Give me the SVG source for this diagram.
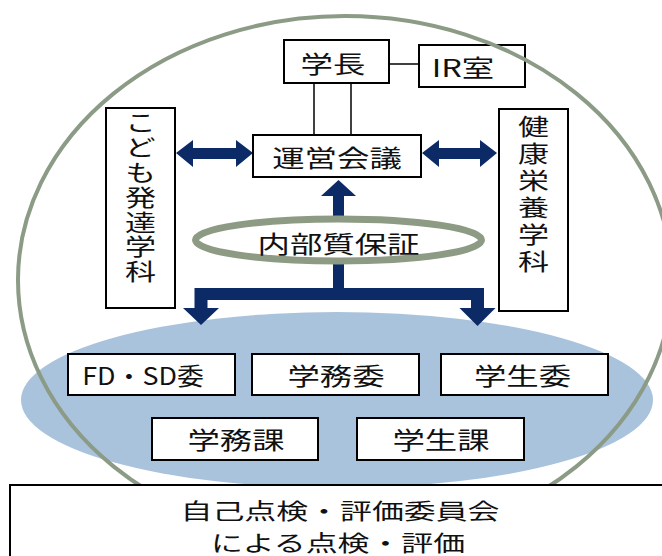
<svg xmlns="http://www.w3.org/2000/svg" width="662" height="556" viewBox="0 0 662 556">
<style>
.box{fill:#fff;stroke:#000;stroke-width:2}
.t{font-family:"Noto Sans CJK JP","Noto Sans",sans-serif;font-size:24px;fill:#111;text-anchor:middle;dominant-baseline:central}
.b{font-family:"Noto Sans CJK JP","Noto Sans",sans-serif;font-size:22px;fill:#111;text-anchor:middle;dominant-baseline:central}
.v{font-family:"Noto Sans CJK JP","Noto Sans",sans-serif;font-size:23px;fill:#111;text-anchor:middle;writing-mode:vertical-rl}
.ln{stroke:#000;stroke-width:1.5;fill:none}
.arr{fill:#0c2a66}
</style>
<rect width="662" height="556" fill="#fff"/>
<ellipse id="blue-area" cx="337" cy="400" rx="316" ry="88" fill="#a9c3dd"/>
<g id="connectors">
<line class="ln" x1="387" y1="64" x2="419" y2="64"/>
<line class="ln" x1="314" y1="83" x2="314" y2="135"/>
<line class="ln" x1="351" y1="83" x2="351" y2="135"/>
<path class="arr" d="M176,153 L193,140 L193,148 L236,148 L236,140 L253,153 L236,167 L236,159 L193,159 L193,167 Z"/>
<path class="arr" d="M422,153 L439,140 L439,148 L480,148 L480,140 L497,153 L480,167 L480,159 L439,159 L439,167 Z"/>
<path class="arr" d="M338.5,180 L356,196 L344,196 L344,288 L484,288 L484,308 L495.5,308 L477.5,326 L459.5,308 L471,308 L471,300 L207.5,300 L207.5,308 L219,308 L201,325 L183,308 L194.5,308 L194.5,288 L333,288 L333,196 L321,196 Z"/>
</g>
<g id="gakucho"><rect class="box" x="284" y="40" width="105" height="43"/><g transform="translate(333,62) scale(1.35,1)"><text class="t" x="0" y="0">学長</text></g></g>
<g id="ir"><rect class="box" x="419" y="45" width="106" height="42"/><g transform="translate(463,66) scale(1.35,1)"><text class="t" x="0" y="0">IR室</text></g></g>
<g id="uneikaigi"><rect class="box" x="253" y="135" width="168" height="42"/><g transform="translate(337,156) scale(1.35,1)"><text class="t" x="0" y="0">運営会議</text></g></g>
<g id="kodomo"><rect class="box" x="106" y="108" width="69" height="200"/><g transform="translate(140.5,198) scale(1.35,1)"><text class="v" x="0" y="0" letter-spacing="1.8">こども発達学科</text></g></g>
<g id="kenko"><rect class="box" x="499" y="109" width="69" height="202"/><g transform="translate(533.5,196) scale(1.35,1)"><text class="v" x="0" y="0" letter-spacing="4">健康栄養学科</text></g></g>
<g id="naibu"><ellipse cx="338.5" cy="240" rx="143" ry="21" fill="#fff" stroke="#8d9b85" stroke-width="7"/><g transform="translate(338.5,242) scale(1.35,1)"><text class="t" x="0" y="0">内部質保証</text></g></g>
<g id="fdsd"><rect class="box" x="68" y="354" width="167" height="41"/><g transform="translate(143,374) scale(1.35,1)"><text class="t" x="0" y="0" textLength="90" lengthAdjust="spacingAndGlyphs">FD・SD委</text></g></g>
<g id="gakumui"><rect class="box" x="252" y="354" width="167" height="41"/><g transform="translate(336,374) scale(1.35,1)"><text class="t" x="0" y="0">学務委</text></g></g>
<g id="gakuseii"><rect class="box" x="441" y="354" width="167" height="41"/><g transform="translate(522.5,374) scale(1.35,1)"><text class="t" x="0" y="0">学生委</text></g></g>
<g id="gakumuka"><rect class="box" x="152" y="418" width="166" height="42"/><g transform="translate(236,438) scale(1.35,1)"><text class="t" x="0" y="0">学務課</text></g></g>
<g id="gakuseika"><rect class="box" x="357" y="418" width="167" height="42"/><g transform="translate(441,438) scale(1.35,1)"><text class="t" x="0" y="0">学生課</text></g></g>
<ellipse id="outer-circle" cx="345" cy="280" rx="327" ry="264" fill="none" stroke="#8b9b85" stroke-width="4"/>
<g id="hyoka"><rect class="box" x="10" y="485" width="670" height="90"/><g transform="translate(340,509) scale(1.45,1)"><text class="b" x="0" y="0">自己点検・評価委員会</text></g><g transform="translate(338,541) scale(1.45,1)"><text class="b" x="0" y="0">による点検・評価</text></g></g>
</svg>
